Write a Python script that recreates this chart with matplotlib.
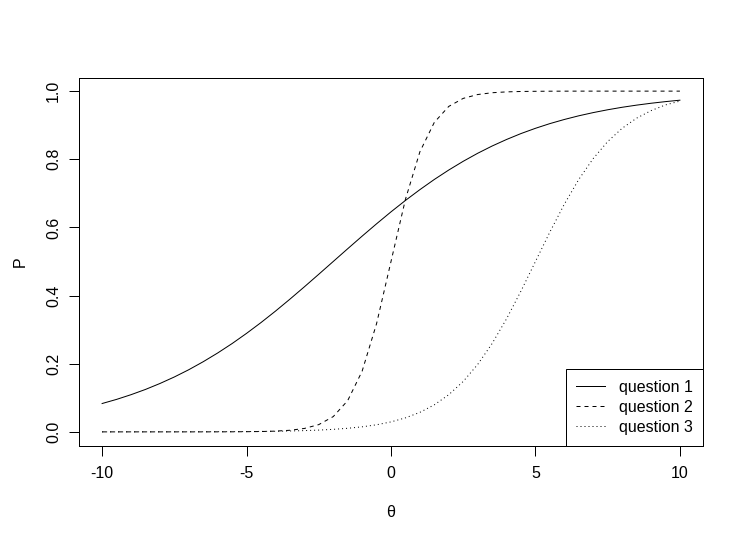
import matplotlib
matplotlib.use("Agg")
import matplotlib.pyplot as plt
import numpy as np

# theta grid and item response probabilities
theta = np.arange(-10, 10.01, 0.5)

q1 = [0.0832, 0.0953, 0.1091, 0.1245, 0.1419, 0.1611, 0.1824, 0.2059, 0.2315,
      0.2592, 0.2891, 0.3208, 0.3543, 0.3894, 0.4256, 0.4626, 0.5000, 0.5374,
      0.5744, 0.6106, 0.6457, 0.6792, 0.7109, 0.7408, 0.7685, 0.7941, 0.8176,
      0.8389, 0.8581, 0.8755, 0.8909, 0.9047, 0.9168, 0.9276, 0.9370, 0.9453,
      0.9526, 0.9589, 0.9644, 0.9692, 0.9734]
q2 = [0.0000, 0.0000, 0.0000, 0.0000, 0.0000, 0.0000, 0.0000, 0.0000, 0.0001,
      0.0002, 0.0005, 0.0010, 0.0022, 0.0047, 0.0100, 0.0213, 0.0448, 0.0916,
      0.1780, 0.3175, 0.5000, 0.6825, 0.8220, 0.9084, 0.9552, 0.9787, 0.9900,
      0.9953, 0.9978, 0.9990, 0.9995, 0.9998, 0.9999, 1.0000, 1.0000, 1.0000,
      1.0000, 1.0000, 1.0000, 1.0000, 1.0000]
q3 = [0.0000, 0.0000, 0.0001, 0.0001, 0.0001, 0.0002, 0.0002, 0.0003, 0.0005,
      0.0006, 0.0009, 0.0013, 0.0018, 0.0026, 0.0037, 0.0052, 0.0074, 0.0105,
      0.0148, 0.0208, 0.0293, 0.0411, 0.0573, 0.0794, 0.1091, 0.1480, 0.1978,
      0.2592, 0.3318, 0.4134, 0.5000, 0.5866, 0.6682, 0.7408, 0.8022, 0.8520,
      0.8909, 0.9206, 0.9427, 0.9595, 0.9707]
labels = ["question 1", "question 2", "question 3"]

plt.rcParams["font.family"] = ["Liberation Sans", "DejaVu Sans"]
plt.rcParams["font.size"] = 12
plt.rcParams["lines.scale_dashes"] = False
plt.rcParams["axes.unicode_minus"] = False

fig = plt.figure(figsize=(744 / 96, 543 / 96), dpi=96)
ax = fig.add_axes([79 / 744, 1 - 445.5 / 543, (703 - 79) / 744, (445.5 - 77.5) / 543])

lw = 0.75
ax.plot(theta, q1, color="black", lw=lw, linestyle="-", label=labels[0])
ax.plot(theta, q2, color="black", lw=lw, linestyle=(0, (3, 3)), label=labels[1])
ax.plot(theta, q3, color="black", lw=lw, linestyle=(0, (0.75, 2.25)), label=labels[2])

ax.set_xlim(-10.8, 10.8)
ax.set_ylim(-0.04, 1.04)
ax.set_xticks([-10, -5, 0, 5, 10])
ax.set_yticks([0.0, 0.2, 0.4, 0.6, 0.8, 1.0])
ax.set_yticklabels(["0.0", "0.2", "0.4", "0.6", "0.8", "1.0"])

for s in ax.spines.values():
    s.set_linewidth(lw)
    s.set_color("black")
ax.tick_params(length=7.5, width=lw, color="black", labelsize=12)
ax.tick_params(axis="x", pad=8)
ax.tick_params(axis="y", pad=6, labelrotation=90)
for t in ax.get_yticklabels():
    t.set_va("center")

ax.set_xlabel("θ", labelpad=18)
ax.set_ylabel("P", labelpad=14)

ax.legend(loc="lower right", borderaxespad=0, fancybox=False, framealpha=1,
          edgecolor="black", handlelength=1.8, handletextpad=0.85,
          borderpad=0.65, labelspacing=0.32, fontsize=12).get_frame().set_linewidth(lw)

fig.savefig("out.png", dpi=96)
